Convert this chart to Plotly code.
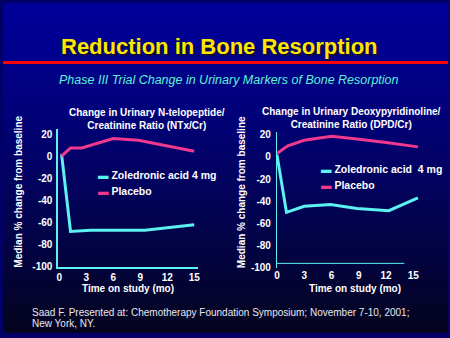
import plotly.graph_objects as go

# ---- data ----
ntx_months_zol = [0.25, 1.25, 3.5, 6.5, 9.5, 15]
ntx_zol = [2, -68, -67, -67, -67, -62]
ntx_months_pla = [0.25, 1.25, 2.5, 6, 8.8, 15]
ntx_pla = [0, 7.5, 7.5, 16, 14.5, 4.5]

dpd_months_zol = [0, 1.05, 3, 5.9, 8.8, 12.3, 15.5]
dpd_zol = [2, -50, -44.5, -43, -46.5, -48.5, -37]
dpd_months_pla = [0, 1.2, 3, 6, 8.8, 12, 15.5]
dpd_pla = [3, 10, 15, 18.5, 16, 13, 9]

x_ticks = [0, 3, 6, 9, 12, 15]
y_ticks = [20, 0, -20, -40, -60, -80, -100]
y_tick_text = ["20", "0", "-20", "-40", "-60", "-80", "-100"]

CYAN = "#5cf2f2"
PINK = "#f0388f"
W, H = 450, 338

fig = go.Figure()

# gradient background bands
top = (0, 0, 153)
bot = (4, 4, 32)
n = 40
for i in range(n):
    f = i / (n - 1)
    g = f ** 1.2
    c = tuple(int(round(top[k] + (bot[k] - top[k]) * g)) for k in range(3))
    fig.add_shape(type="rect", xref="paper", yref="paper",
                  x0=0, x1=1, y0=1 - (i + 1) / n - 0.002, y1=1 - i / n,
                  fillcolor="rgb(%d,%d,%d)" % c, line_width=0, layer="below")

def px(xp):
    return xp / W

def py(yp):
    return 1 - yp / H

# traces
fig.add_trace(go.Scatter(x=ntx_months_zol, y=ntx_zol, mode="lines",
                         line=dict(color=CYAN, width=3), xaxis="x", yaxis="y"))
fig.add_trace(go.Scatter(x=ntx_months_pla, y=ntx_pla, mode="lines",
                         line=dict(color=PINK, width=3), xaxis="x", yaxis="y"))
fig.add_trace(go.Scatter(x=dpd_months_zol, y=dpd_zol, mode="lines",
                         line=dict(color=CYAN, width=3), xaxis="x2", yaxis="y2"))
fig.add_trace(go.Scatter(x=dpd_months_pla, y=dpd_pla, mode="lines",
                         line=dict(color=PINK, width=3), xaxis="x2", yaxis="y2"))

tickfont = dict(family="Liberation Sans", size=10, color="white", weight="bold")
axis_common = dict(showgrid=False, zeroline=False, ticks="", tickfont=tickfont)

fig.update_layout(
    width=W, height=H, margin=dict(l=0, r=0, t=0, b=0),
    paper_bgcolor="#000066", plot_bgcolor="rgba(0,0,0,0)",
    showlegend=False,
    xaxis=dict(domain=[px(56), px(197)], range=[-0.1, 15.4], anchor="y",
               tickvals=x_ticks, showline=True, linecolor=CYAN, linewidth=2,
               **axis_common),
    yaxis=dict(domain=[py(271), py(129)], range=[-100, 25], anchor="x",
               tickvals=y_ticks, ticktext=y_tick_text, showline=True,
               linecolor=CYAN, linewidth=2, ticklabelstandoff=2, **axis_common),
    xaxis2=dict(domain=[px(277), px(420.5)], range=[0, 15.6], anchor="y2",
                tickvals=x_ticks, showline=False, **axis_common),
    yaxis2=dict(domain=[py(272), py(133)], range=[-100, 22], anchor="x2",
                tickvals=y_ticks, ticktext=y_tick_text, showline=True,
                linecolor=CYAN, linewidth=1, ticklabelstandoff=3, **axis_common),
)

# right-chart x axis line (ends before 15)
fig.add_shape(type="line", xref="x2", yref="paper", x0=0, x1=14,
              y0=py(267.5), y1=py(267.5), line=dict(color=CYAN, width=1))

# red rule
fig.add_shape(type="line", xref="paper", yref="paper", x0=0, x1=1,
              y0=py(61), y1=py(61), line=dict(color="#ff0000", width=3))

def ann(text, x, y, size, color="white", bold=False, italic=False,
        xanchor="center", angle=0, align="center", family="Liberation Sans",
        shadow=None):
    if bold:
        text = "<b>" + text + "</b>"
    if italic:
        text = "<i>" + text + "</i>"
    font = dict(family=family, size=size, color=color)
    if shadow:
        font["shadow"] = shadow
    fig.add_annotation(text=text, x=px(x), y=py(y), xref="paper", yref="paper",
                       showarrow=False, xanchor=xanchor, yanchor="middle",
                       font=font, textangle=angle, align=align)

# title with shadow
ann("Reduction in Bone Resorption", 219, 45, 22, color="#ffe600", bold=True,
    shadow="1.5px 1.5px 1px #101030")
ann("Phase III Trial Change in Urinary Markers of Bone Resorption", 229, 79, 12.5,
    color="#5ff0d8", italic=True)

# chart titles
ann("Change in Urinary N-telopeptide/<br>Creatinine Ratio (NTx/Cr)", 146, 119, 10,
    bold=True)
ann("Change in Urinary Deoxypyridinoline/<br>Creatinine Ratio (DPD/Cr)", 352, 118, 10,
    bold=True)

# axis titles
ann("Median % change from baseline", 16, 194, 10, bold=True, angle=-90)
ann("Median % change from baseline", 242, 194, 10, bold=True, angle=-90)
ann("Time on study (mo)", 126, 293, 10, bold=True)
ann("Time on study (mo)", 356, 293, 10, bold=True)

# legends
ann('<span style="color:%s">▬</span> Zoledronic acid 4 mg' % CYAN, 94, 177, 10.5,
    bold=True, xanchor="left")
ann('<span style="color:%s">▬</span> Placebo' % PINK, 94, 193, 10.5,
    bold=True, xanchor="left")
ann('<span style="color:%s">▬</span> Zoledronic acid  4 mg' % CYAN, 320, 171, 10.5,
    bold=True, xanchor="left")
ann('<span style="color:%s">▬</span> Placebo' % PINK, 320, 187, 10.5,
    bold=True, xanchor="left")

# footer
ann("Saad F. Presented at: Chemotherapy Foundation Symposium; November 7-10, 2001;",
    27, 318, 10, color="#e8e8f0", xanchor="left", align="left")
ann("New York, NY.", 27, 329, 10, color="#e8e8f0", xanchor="left", align="left")

fig.write_html("out.html")
